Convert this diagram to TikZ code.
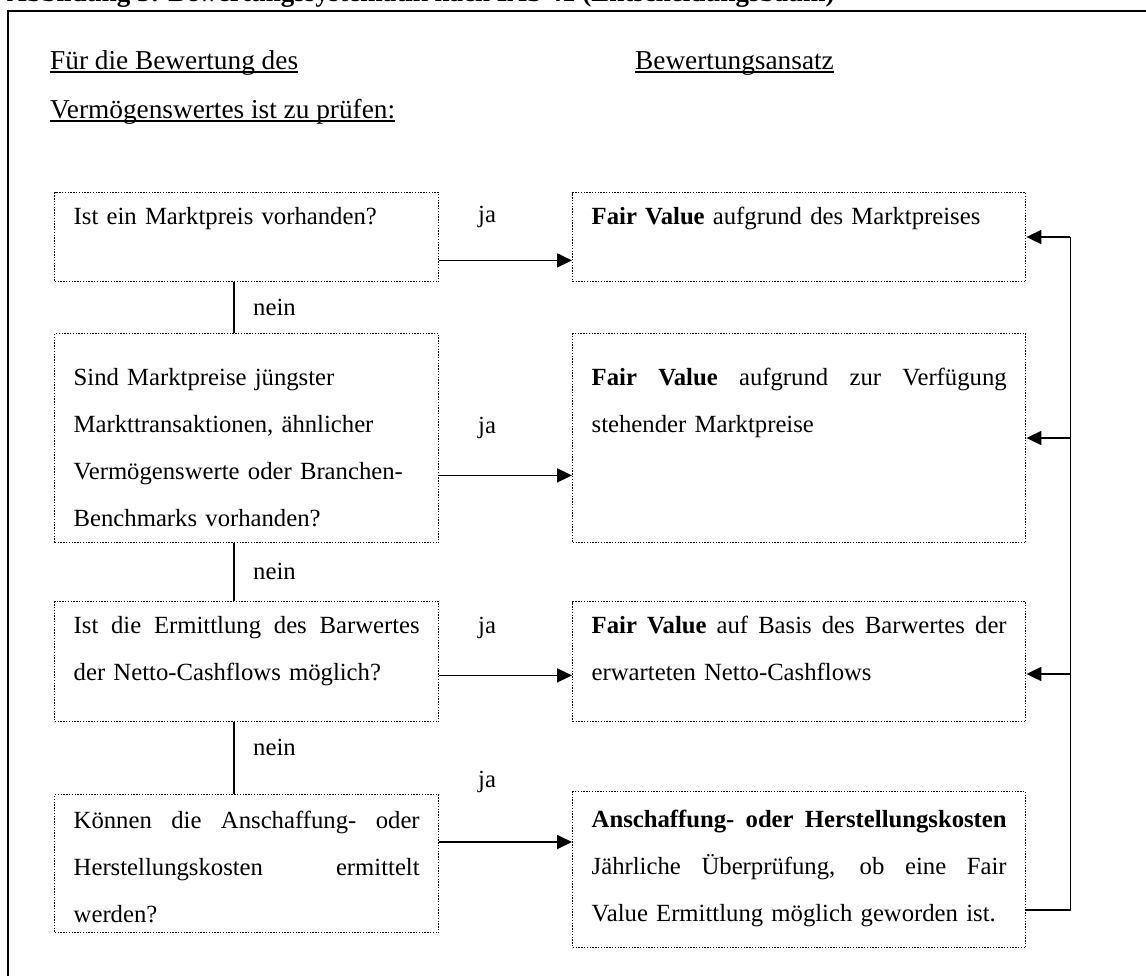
\documentclass[tikz,border=0pt]{standalone}
\usepackage{fontspec}
\setmainfont{Liberation Serif}
\usetikzlibrary{arrows.meta,calc}
\newcommand{\fsz}{\fontsize{24.7}{47}\selectfont}
\newcommand{\hsz}{\fontsize{27.3}{47}\selectfont}
\newcommand{\jl}[1]{{\spaceskip=0pt\xspaceskip=0pt\makebox[346pt][s]{#1}}}
\newcommand{\jr}[1]{{\spaceskip=0pt\xspaceskip=0pt\makebox[415pt][s]{#1}}}
\begin{document}
\begin{tikzpicture}[x=1pt,y=-1pt,
  box/.style={draw, line width=1.4pt, dash pattern=on 1.4pt off 1.4pt, anchor=north west,
              inner xsep=19pt, inner ysep=0pt, align=left, font=\fsz},
  lbox/.style={box, text width=346pt},
  rbox/.style={box, text width=415pt},
  conn/.style={line width=1.8pt},
  arr/.style={conn, -{Triangle[length=15pt,width=14pt]}},
  lbl/.style={font=\fsz, inner sep=0pt, anchor=base west},
  hdr/.style={lbl, font=\hsz},
  uline/.style={line width=1.4pt}]
\useasboundingbox (0,0) rectangle (1146,975);
% outer frame
\draw[line width=2.4pt] (8,11) rectangle (1170,1000);
% title (cut off at top)
\node[lbl, font=\fontsize{27}{30}\selectfont\bfseries] (title) at (7,1)
  {Abbildung 3: Bewertungssystematik nach IAS 41 (Entscheidungsbaum)};
% headers
\node[hdr] (h1) at (50,69) {Für die Bewertung des};
\node[hdr] (h2) at (50,118) {Vermögenswertes ist zu prüfen:};
\node[hdr] (h3) at (635,69) {Bewertungsansatz};
\foreach \n in {h1,h2,h3}
  \draw[uline] ([yshift=-3pt]\n.base west) -- ([yshift=-3pt]\n.base east);
% left column
\node[lbox, text height=32pt, text depth=57pt] (q1) at (54,192)
  {Ist ein Marktpreis vorhanden?};
\node[lbox, text height=52pt, text depth=157pt] (q2) at (54,333)
  {\mbox{Sind Marktpreise jüngster}\\ \mbox{Markttransaktionen, ähnlicher}\\ \mbox{Vermögenswerte oder Branchen-}\\ \mbox{Benchmarks vorhanden?}};
\node[lbox, text height=32pt, text depth=88pt] (q3) at (54,601)
  {\jl{Ist die Ermittlung des Barwertes}\\ \mbox{der Netto-Cashflows möglich?}};
\node[lbox, text height=34pt, text depth=104pt] (q4) at (54,794)
  {\jl{Können die Anschaffung- oder}\\ \jl{Herstellungskosten ermittelt}\\ \mbox{werden?}};
% right column
\node[rbox, text height=32pt, text depth=57pt] (r1) at (572,192)
  {\mbox{\textbf{Fair Value} aufgrund des Marktpreises}};
\node[rbox, text height=52pt, text depth=157pt] (r2) at (572,333)
  {\jr{\textbf{Fair Value} aufgrund zur Verfügung}\\ \mbox{stehender Marktpreise}};
\node[rbox, text height=32pt, text depth=88pt] (r3) at (572,601)
  {\jr{\textbf{Fair Value} auf Basis des Barwertes der}\\ \mbox{erwarteten Netto-Cashflows}};
\node[rbox, text height=36pt, text depth=120pt] (r4) at (572,791)
  {\jr{\textbf{Anschaffung- oder Herstellungskosten}}\\ \jr{Jährliche Überprüfung, ob eine Fair}\\ \mbox{Value Ermittlung möglich geworden ist.}};
% ja arrows
\coordinate (a1) at ([yshift=22pt]q1.south east);
\coordinate (a2) at ([yshift=68pt]q2.south east);
\coordinate (a3) at ([yshift=47pt]q3.south east);
\coordinate (a4) at ([yshift=-48pt]q4.north east);
\foreach \a/\r in {a1/r1,a2/r2,a3/r3,a4/r4}
  \draw[arr] (\a) -- (\a -| \r.west);
\node[lbl] (ja1) at (478,222) {ja};
\node[lbl] (ja2) at (478,433) {ja};
\node[lbl] (ja3) at (478,633) {ja};
\node[lbl] (ja4) at (478,787) {ja};
% nein connectors
\coordinate (n1) at ([xshift=180pt]q1.south west);
\coordinate (n2) at ([xshift=180pt]q2.south west);
\coordinate (n3) at ([xshift=180pt]q3.south west);
\draw[conn] (n1) -- (n1 |- q2.north);
\draw[conn] (n2) -- (n2 |- q3.north);
\draw[conn] (n3) -- (n3 |- q4.north);
\node[lbl] (nein1) at ([xshift=19pt,yshift=-33pt]n1) {nein};
\node[lbl] (nein2) at ([xshift=19pt,yshift=-36pt]n2) {nein};
\node[lbl] (nein3) at ([xshift=19pt,yshift=-33pt]n3) {nein};
% feedback loop
\coordinate (f0) at ([yshift=-119pt]r4.north east);
\coordinate (fc) at ([xshift=44pt]r1.north east);
\coordinate (f1) at ([yshift=-45pt]r1.north east);
\coordinate (f2) at ([yshift=-105pt]r2.north east);
\coordinate (f3) at ([yshift=-73pt]r3.north east);
\draw[conn] (f0) -- (f0 -| fc) -- (f1 -| fc);
\draw[arr] (f1 -| fc) -- (f1);
\draw[arr] (f2 -| fc) -- (f2);
\draw[arr] (f3 -| fc) -- (f3);
\end{tikzpicture}
\end{document}
